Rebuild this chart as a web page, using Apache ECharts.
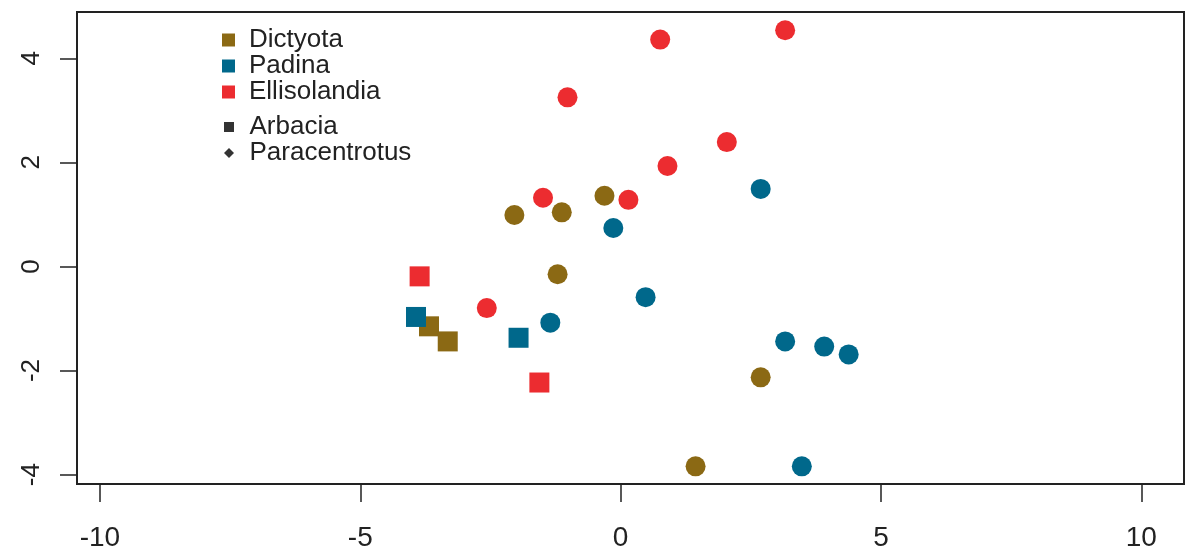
<!DOCTYPE html>
<html>
<head>
<meta charset="utf-8">
<script src="https://cdn.jsdelivr.net/npm/echarts@6/dist/echarts.min.js"></script>
<style>
  html, body { margin: 0; padding: 0; background: #fff; }
  #chart { width: 1186px; height: 552px; }
</style>
</head>
<body>
<div id="chart"></div>
<script>
// Tick positions on both axes
const xTicks = [-10, -5, 0, 5, 10];
const yTicks = [-4, -2, 0, 2, 4];

// Legend groups: algal diet (colour) and urchin species (shape)
const species = ['Dictyota', 'Padina', 'Ellisolandia'];
const urchins = ['Arbacia', 'Paracentrotus'];

// Ordination scores [axis 1, axis 2]
const dictyotaArbacia = [[-3.68, -1.15], [-3.32, -1.44]];
const dictyotaParacentrotus = [[-2.04, 0.99], [-1.13, 1.04], [-0.31, 1.36], [-1.21, -0.15], [2.69, -2.13], [1.44, -3.84]];
const padinaArbacia = [[-3.93, -0.97], [-1.96, -1.37]];
const padinaParacentrotus = [[2.69, 1.49], [-0.14, 0.74], [0.48, -0.59], [-1.35, -1.08], [3.16, -1.44], [3.91, -1.54], [4.38, -1.69], [3.48, -3.84]];
const ellisolandiaArbacia = [[-3.86, -0.19], [-1.56, -2.23]];
const ellisolandiaParacentrotus = [[0.76, 4.36], [3.16, 4.54], [-1.02, 3.25], [2.04, 2.39], [0.90, 1.93], [-1.49, 1.32], [0.15, 1.28], [-2.57, -0.80]];

const colors = { Dictyota: '#8B6914', Padina: '#00688B', Ellisolandia: '#EC2C30' };
const FONT = 'Liberation Sans, Arial, sans-serif';
const INK = '#222';
const squareIcon = 'path://M0,0H10V10H0Z';
const diamondIcon = 'path://M5,0L10,5L5,10L0,5Z';

function pointSeries(name, data, symbol) {
  return {
    type: 'scatter',
    name: name,
    data: data,
    symbol: symbol,
    symbolSize: 20,
    itemStyle: { color: colors[name], opacity: 1 },
    emphasis: { disabled: true },
    silent: true
  };
}

const series = [
  pointSeries('Dictyota', dictyotaParacentrotus, 'circle'),
  pointSeries('Dictyota', dictyotaArbacia, 'rect'),
  pointSeries('Padina', padinaParacentrotus, 'circle'),
  pointSeries('Padina', padinaArbacia, 'rect'),
  pointSeries('Ellisolandia', ellisolandiaParacentrotus, 'circle'),
  pointSeries('Ellisolandia', ellisolandiaArbacia, 'rect'),
  // shape key entries (no points of their own)
  { type: 'scatter', name: urchins[0], data: [], itemStyle: { color: '#000' } },
  { type: 'scatter', name: urchins[1], data: [], itemStyle: { color: '#000' } }
];

const legendText = { fontSize: 26, lineHeight: 24, color: INK, fontFamily: FONT };

const option = {
  backgroundColor: '#fff',
  animation: false,
  grid: {
    left: 77, right: 2, top: 12, bottom: 68,
    show: true, borderColor: INK, borderWidth: 2, backgroundColor: 'transparent'
  },
  legend: [
    {
      orient: 'vertical', left: 222, top: 27, padding: 0, itemGap: 0,
      itemWidth: 31, itemHeight: 13, selectedMode: false,
      textStyle: legendText,
      data: species.map(s => ({ name: s, icon: squareIcon }))
    },
    {
      orient: 'vertical', left: 224, top: 114, padding: 0, itemGap: 0,
      itemWidth: 31, itemHeight: 10, selectedMode: false,
      textStyle: legendText,
      data: [
        { name: urchins[0], icon: squareIcon, itemStyle: { color: '#000' } },
        { name: urchins[1], icon: diamondIcon, itemStyle: { color: '#000' } }
      ]
    }
  ],
  xAxis: {
    type: 'value', min: -10.44, max: 10.82,
    axisLine: { show: false, onZero: false },
    axisTick: { show: true, customValues: xTicks, length: 18, lineStyle: { color: INK, width: 1.5 } },
    axisLabel: { customValues: xTicks, fontSize: 28, margin: 40, color: INK, fontFamily: FONT },
    splitLine: { show: false }
  },
  yAxis: {
    type: 'value', min: -4.18, max: 4.89,
    axisLine: { show: false, onZero: false },
    axisTick: { show: true, customValues: yTicks, length: 17, lineStyle: { color: INK, width: 1.5 } },
    axisLabel: { customValues: yTicks, fontSize: 26, margin: 32, rotate: 90, color: INK, fontFamily: FONT },
    splitLine: { show: false }
  },
  series: series
};

const chart = echarts.init(document.getElementById('chart'), null, { renderer: 'canvas' });
chart.setOption(option);
</script>
</body>
</html>
